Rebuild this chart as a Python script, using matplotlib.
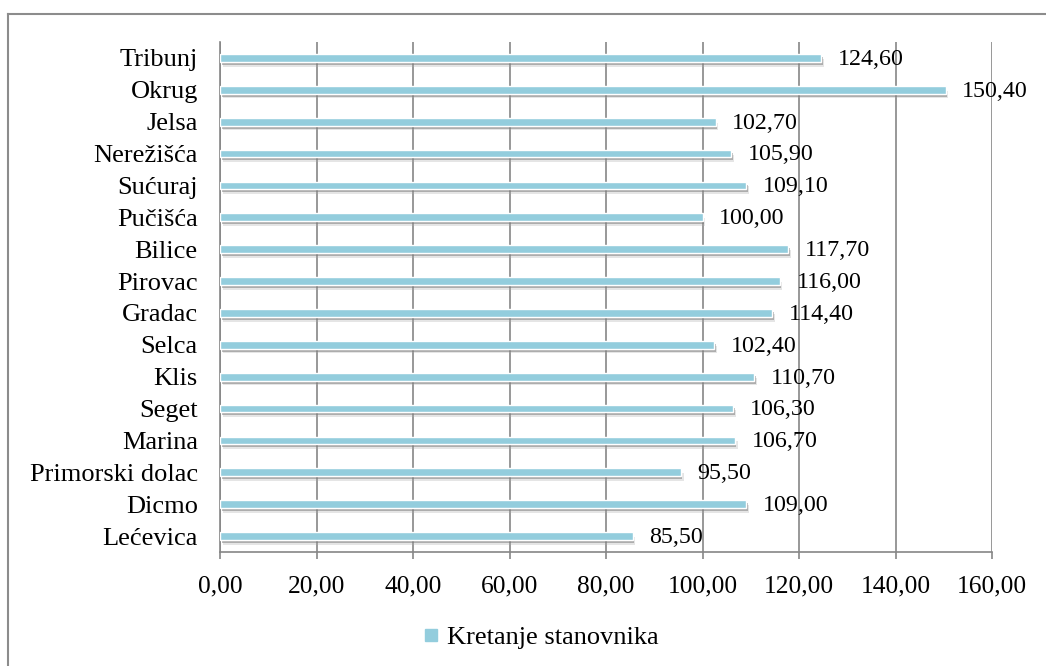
import matplotlib.pyplot as plt
import matplotlib.patheffects as pe
from matplotlib.lines import Line2D

# Data ################
mjesta = ["Lećevica", "Dicmo", "Primorski dolac", "Marina", "Seget", "Klis",
          "Selca", "Gradac", "Pirovac", "Bilice", "Pučišća", "Sućuraj",
          "Nerežišća", "Jelsa", "Okrug", "Tribunj"]
kretanje = [85.5, 109.0, 95.5, 106.7, 106.3, 110.7, 102.4, 114.4, 116.0,
            117.7, 100.0, 109.1, 105.9, 102.7, 150.4, 124.6]
x_ticks = [0, 20, 40, 60, 80, 100, 120, 140, 160]
#########################

plt.rcParams['font.family'] = ['Liberation Serif', 'DejaVu Serif']
boja = '#93CDDD'
siva = '#868686'

fig = plt.figure(figsize=(10.46, 6.66), dpi=100)
ax = fig.add_axes([220 / 1046, 1 - 552 / 666, (992 - 220) / 1046, (552 - 42) / 666])

y = range(len(mjesta))
bars = ax.barh(y, kretanje, height=0.24, color=boja, edgecolor='white',
               linewidth=1.0, zorder=3)
for b in bars:
    b.set_path_effects([pe.SimplePatchShadow(offset=(2.0, -3.5), shadow_rgbFace='#aaaaaa', alpha=0.3),
                        pe.SimplePatchShadow(offset=(1.2, -2.2), shadow_rgbFace='#777777', alpha=0.5),
                        pe.Normal()])

for yi, v in zip(y, kretanje):
    ax.annotate(f"{v:.2f}".replace('.', ','), (v, yi), xytext=(12, -1),
                textcoords='offset points', va='center', ha='left',
                fontsize=17.3, color='black', zorder=4)

ax.set_xlim(0, 160)
ax.set_ylim(-0.5, len(mjesta) - 0.5)
ax.set_xticks(x_ticks)
ax.set_xticklabels([f"{t:.2f}".replace('.', ',') for t in x_ticks], fontsize=18.4)
ax.set_yticks(list(y))
ax.set_yticklabels(mjesta, fontsize=19)
ax.tick_params(axis='y', length=0, pad=16)
ax.tick_params(axis='x', length=5, color=siva, width=1.2, pad=12)
ax.grid(axis='x', color=siva, linewidth=1.2, zorder=0)
for s in ['top', 'right']:
    ax.spines[s].set_visible(False)
for s in ['left', 'bottom']:
    ax.spines[s].set_color(siva)
    ax.spines[s].set_linewidth(1.2)

handle = Line2D([], [], marker='s', linestyle='none', markersize=8,
                markerfacecolor=boja, markeredgecolor=boja)
fig.legend([handle], ["Kretanje stanovnika"], loc='center',
           bbox_to_anchor=(538 / 1046, 1 - 637 / 666), frameon=False,
           fontsize=19, handletextpad=0.1, handlelength=1.0)

# okvir grafikona (samo lijevi i gornji rub su vidljivi)
fig.add_artist(Line2D([8 / 1046, 8 / 1046], [0, 1 - 14 / 666], color='#8c8c8c', linewidth=1.5))
fig.add_artist(Line2D([8 / 1046, 1], [1 - 14 / 666, 1 - 14 / 666], color='#8c8c8c', linewidth=1.5))

fig.savefig('out.png', dpi=100)
